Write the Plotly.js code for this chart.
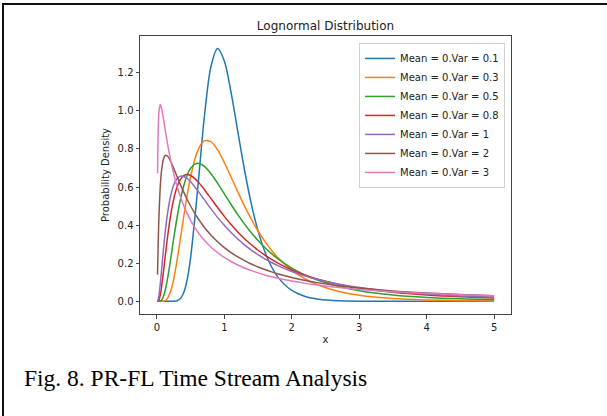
<!DOCTYPE html>
<html>
<head>
<meta charset="utf-8">
<script src="https://cdn.plot.ly/plotly-3.0.1.min.js"></script>
<style>
  html, body { margin: 0; padding: 0; background: #fff; }
  #wrap { position: relative; width: 607px; height: 416px; overflow: hidden; }
  #chart { position: absolute; left: 0; top: 0; width: 607px; height: 416px; }
  #frame { position: absolute; left: 2px; top: 3px; width: 620px; height: 430px;
           border-top: 2px solid #111; border-left: 2px solid #111; pointer-events: none; }
</style>
</head>
<body>
<div id="wrap"><div id="chart"></div><div id="frame"></div></div>
<script>
// x sample points
const xs = [0.01,0.02,0.03,0.05,0.07,0.1,0.13,0.16,0.2,0.25,0.3,0.35,0.4,0.45,0.5,0.6,0.7,0.8,0.9,1.0,1.1,1.2,1.3,1.4,1.5,1.6,1.7,1.8,2.0,2.2,2.4,2.7,3.0,3.5,4.0,4.5,5.0];

const seriesNames = ["Mean = 0.Var = 0.1","Mean = 0.Var = 0.3","Mean = 0.Var = 0.5","Mean = 0.Var = 0.8","Mean = 0.Var = 1","Mean = 0.Var = 2","Mean = 0.Var = 3"];

const var01 = [0,0,0,0,0,0,0,0,0,0.0003,0.0030,0.0146,0.0474,0.1157,0.2283,0.5705,0.9541,1.2294,1.3261,1.2616,1.0960,0.8903,0.6879,0.5116,0.3697,0.2613,0.1816,0.1246,0.0571,0.0256,0.0114,0.0034,0.0010,0.0001,0,0,0];
const var03 = [0,0,0,0,0.0001,0.0011,0.0054,0.0169,0.0486,0.1184,0.2167,0.3315,0.4493,0.5593,0.6540,0.7859,0.8417,0.8379,0.7945,0.7284,0.6522,0.5743,0.4996,0.4308,0.3692,0.3150,0.2680,0.2275,0.1635,0.1175,0.0846,0.0521,0.0325,0.0152,0.0074,0.0037,0.0019];
const var05 = [0,0,0.0001,0.0014,0.0068,0.0281,0.0676,0.1227,0.2116,0.3302,0.4413,0.5355,0.6092,0.6627,0.6979,0.7244,0.7097,0.6710,0.6200,0.5642,0.5083,0.4548,0.4051,0.3599,0.3191,0.2827,0.2504,0.2219,0.1745,0.1377,0.1092,0.0779,0.0562,0.0336,0.0206,0.0131,0.0085];
const var08 = [0.0001,0.0016,0.0068,0.0327,0.0767,0.1623,0.2545,0.3418,0.4419,0.5367,0.6009,0.6399,0.6598,0.6654,0.6606,0.6315,0.5885,0.5405,0.4922,0.4460,0.4032,0.3640,0.3287,0.2968,0.2683,0.2428,0.2200,0.1997,0.1652,0.1375,0.1151,0.0892,0.0699,0.0478,0.0336,0.0241,0.0177];
const var1 = [0.0010,0.0095,0.0285,0.0899,0.1660,0.2815,0.3830,0.4652,0.5463,0.6104,0.6442,0.6570,0.6555,0.6445,0.6275,0.5836,0.5348,0.4864,0.4408,0.3989,0.3610,0.3270,0.2965,0.2693,0.2450,0.2233,0.2039,0.1865,0.1569,0.1329,0.1133,0.0902,0.0727,0.0520,0.0382,0.0286,0.0219];
const var2 = [0.1405,0.3075,0.4347,0.5985,0.6878,0.7494,0.7666,0.7615,0.7382,0.6979,0.6545,0.6119,0.5717,0.5345,0.5003,0.4405,0.3904,0.3483,0.3126,0.2821,0.2559,0.2331,0.2133,0.1959,0.1805,0.1668,0.1547,0.1438,0.1251,0.1098,0.0970,0.0816,0.0695,0.0544,0.0436,0.0356,0.0295];
const var3 = [0.672,0.8985,0.989,1.0324,1.0124,0.9519,0.8854,0.8226,0.7479,0.6688,0.6030,0.5477,0.5006,0.4603,0.4252,0.3675,0.3221,0.2855,0.2555,0.2303,0.2091,0.1909,0.1752,0.1614,0.1494,0.1388,0.1293,0.1208,0.1063,0.0944,0.0845,0.0724,0.0628,0.0507,0.0418,0.0351,0.0299];

const yTickVals = [0, 0.2, 0.4, 0.6, 0.8, 1.0, 1.2];
const yTickText = ["0.0","0.2","0.4","0.6","0.8","1.0","1.2"];
const xTickVals = [0, 1, 2, 3, 4, 5];
const xTickText = ["0","1","2","3","4","5"];

const colors = ["#1f77b4","#ff7f0e","#2ca02c","#d62728","#9467bd","#8c564b","#e377c2"];
const allY = [var01, var03, var05, var08, var1, var2, var3];

const traces = allY.map((ys, i) => ({
  type: "scatter", mode: "lines", x: xs, y: ys, name: seriesNames[i],
  line: { color: colors[i], width: 1.5, shape: "spline", smoothing: 0.8 }
}));

const axisCommon = {
  showgrid: false, zeroline: false, showline: true, mirror: true,
  linecolor: "#444", linewidth: 1, ticks: "outside", ticklen: 3.5, tickwidth: 1,
  tickcolor: "#444", tickfont: { family: "DejaVu Sans", size: 10, color: "#222" }
};

const layout = {
  width: 607, height: 416,
  margin: { l: 140, r: 96, t: 36, b: 102 },
  paper_bgcolor: "#fff", plot_bgcolor: "#fff",
  showlegend: true,
  title: { text: "Lognormal Distribution", font: { family: "DejaVu Sans", size: 12, color: "#222" },
           x: 0.5, xref: "paper", y: 1 - 26/416, yref: "container", yanchor: "middle" },
  xaxis: Object.assign({}, axisCommon, {
    range: [-0.25, 5.25], tickvals: xTickVals, ticktext: xTickText,
    title: { text: "x", font: { family: "DejaVu Sans", size: 10, color: "#222" }, standoff: 4 }
  }),
  yaxis: Object.assign({}, axisCommon, {
    range: [-0.0663, 1.3923], tickvals: yTickVals, ticktext: yTickText,
    title: { text: "Probability Density", font: { family: "DejaVu Sans", size: 10, color: "#222" }, standoff: 6 }
  }),
  legend: {
    x: 0.984, y: 0.975, xanchor: "right", yanchor: "top",
    bgcolor: "rgba(255,255,255,0.85)", bordercolor: "#d0d0d0", borderwidth: 1,
    font: { family: "DejaVu Sans", size: 10, color: "#222" }, itemwidth: 30
  },
  annotations: [{
    text: "Fig. 8. PR-FL Time Stream Analysis", showarrow: false,
    xref: "paper", yref: "paper", x: (22 - 140) / 371, y: (314 - 378) / 278,
    xanchor: "left", yanchor: "middle",
    font: { family: "Liberation Serif", size: 23.5, color: "#000" }
  }]
};

Plotly.newPlot("chart", traces, layout, { displayModeBar: false, staticPlot: true });
</script>
</body>
</html>
